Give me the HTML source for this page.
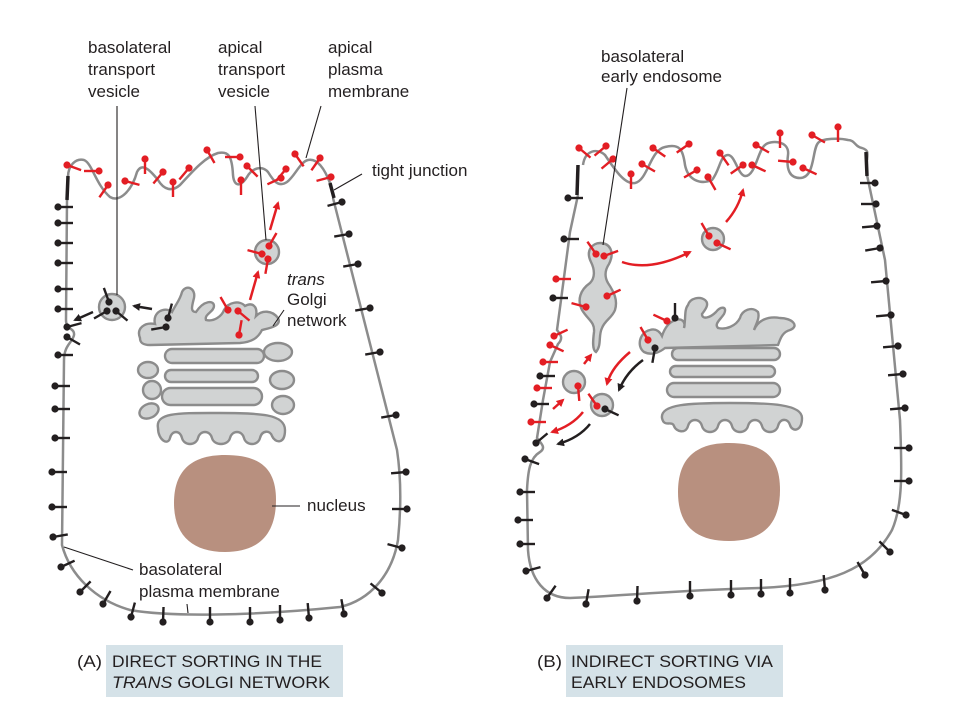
<!DOCTYPE html>
<html><head><meta charset="utf-8"><style>
html,body{margin:0;padding:0;background:#fff;}
svg{display:block}
text{font-family:"Liberation Sans",sans-serif;font-size:17px;fill:#231f20}
</style></head><body>
<svg width="958" height="722" viewBox="0 0 958 722" xmlns="http://www.w3.org/2000/svg">
<defs>
<g id="bm"><line x1="0" y1="0" x2="15" y2="0" stroke="#231f20" stroke-width="2.4"/><circle cx="0" cy="0" r="3.6" fill="#231f20"/></g>
<g id="rm"><line x1="0" y1="0" x2="15" y2="0" stroke="#e31e24" stroke-width="2.4"/><circle cx="0" cy="0" r="3.6" fill="#e31e24"/></g>
<marker id="ar" markerWidth="8" markerHeight="8" refX="6" refY="4" orient="auto" markerUnits="userSpaceOnUse"><path d="M0,0 L8,4 L0,8 Z" fill="#e31e24"/></marker>
<marker id="ab" markerWidth="8" markerHeight="8" refX="6" refY="4" orient="auto" markerUnits="userSpaceOnUse"><path d="M0,0 L8,4 L0,8 Z" fill="#231f20"/></marker>
</defs>

<!-- ============ CELL A ============ -->
<g fill="none" stroke="#8c8c8c" stroke-width="2.5">
<path d="M68,177 C68,165 76,158 84,160 C92,163 96,185 110,197 C120,203 132,190 137,172 C142,162 150,170 158,180 C164,190 172,192 180,185 C192,172 205,157 218,153 C228,151 232,155 233,175 C234,186 240,188 247,177 C252,168 262,165 268,172 C273,180 278,188 287,182 C295,176 300,162 308,160 C318,158 325,170 330,183"/>
<path d="M67,200 L66,320 C66,330 75,328 74,335 C73,342 64,345 64,360 L62,545 C70,575 95,600 130,610 C170,617 250,616 340,607 C370,600 392,575 398,540 C402,500 400,470 397,450 L333,198"/>
</g>
<line x1="68" y1="176" x2="67" y2="200" stroke="#231f20" stroke-width="3.5"/>
<line x1="330" y1="183" x2="334" y2="198" stroke="#231f20" stroke-width="3.5"/>

<use href="#bm" transform="translate(58,207)"/><use href="#bm" transform="translate(58,223)"/><use href="#bm" transform="translate(58,243)"/><use href="#bm" transform="translate(58,263)"/><use href="#bm" transform="translate(58,289)"/><use href="#bm" transform="translate(58,309)"/>
<use href="#bm" transform="translate(67,327) rotate(-15)"/><use href="#bm" transform="translate(67,337) rotate(30)"/>
<use href="#bm" transform="translate(58,355)"/><use href="#bm" transform="translate(55,386)"/><use href="#bm" transform="translate(55,409)"/><use href="#bm" transform="translate(55,438)"/><use href="#bm" transform="translate(52,472)"/><use href="#bm" transform="translate(52,507)"/><use href="#bm" transform="translate(53,537) rotate(-10)"/>
<use href="#bm" transform="translate(61,567) rotate(-25)"/><use href="#bm" transform="translate(80,592) rotate(-45)"/><use href="#bm" transform="translate(103,604) rotate(-60)"/><use href="#bm" transform="translate(131,617) rotate(-75)"/><use href="#bm" transform="translate(163,622) rotate(-88)"/><use href="#bm" transform="translate(210,622) rotate(-90)"/><use href="#bm" transform="translate(250,622) rotate(-90)"/><use href="#bm" transform="translate(280,620) rotate(-90)"/><use href="#bm" transform="translate(309,618) rotate(-95)"/><use href="#bm" transform="translate(344,614) rotate(-100)"/><use href="#bm" transform="translate(382,593) rotate(-140)"/>
<use href="#bm" transform="translate(402,548) rotate(-165)"/><use href="#bm" transform="translate(407,509) rotate(180)"/><use href="#bm" transform="translate(406,472) rotate(175)"/>
<use href="#bm" transform="translate(396,415) rotate(170)"/><use href="#bm" transform="translate(380,352) rotate(170)"/><use href="#bm" transform="translate(370,308) rotate(170)"/><use href="#bm" transform="translate(358,264) rotate(170)"/><use href="#bm" transform="translate(349,234) rotate(170)"/><use href="#bm" transform="translate(342,202) rotate(165)"/>

<use href="#rm" transform="translate(67,165) rotate(20)"/><use href="#rm" transform="translate(99,171) rotate(180)"/><use href="#rm" transform="translate(108,185) rotate(125)"/><use href="#rm" transform="translate(125,181) rotate(15)"/><use href="#rm" transform="translate(145,159) rotate(90)"/><use href="#rm" transform="translate(163,172) rotate(130)"/><use href="#rm" transform="translate(173,182) rotate(90)"/><use href="#rm" transform="translate(189,168) rotate(130)"/><use href="#rm" transform="translate(207,150) rotate(60)"/><use href="#rm" transform="translate(240,157) rotate(180)"/><use href="#rm" transform="translate(241,180) rotate(90)"/><use href="#rm" transform="translate(247,166) rotate(45)"/><use href="#rm" transform="translate(281,178) rotate(155)"/><use href="#rm" transform="translate(286,169) rotate(130)"/><use href="#rm" transform="translate(295,154) rotate(55)"/><use href="#rm" transform="translate(320,158) rotate(125)"/><use href="#rm" transform="translate(331,177) rotate(165)"/>

<g fill="#d1d3d3" stroke="#8c8c8c" stroke-width="2.4">
<path d="M140,338 C136,328 145,322 155,324 C152,312 165,306 172,312 C176,304 180,300 182,292 C186,284 196,288 194,298 C192,306 190,312 196,312 C204,300 214,300 214,306 C214,312 204,314 206,320 C214,322 222,316 224,310 C228,302 240,300 245,306 C252,302 258,306 256,316 C262,310 272,310 278,318 C282,326 270,328 262,330 C258,338 252,342 240,343 L150,345 C142,345 140,342 140,338 Z"/>
<rect x="165" y="349" width="99" height="14" rx="7"/>
<rect x="165" y="370" width="93" height="12" rx="6"/>
<rect x="162" y="388" width="100" height="17" rx="8.5"/>
<path d="M158,428 C155,412 180,413 220,413 C260,413 285,414 285,430 C285,445 275,443 272,436 C270,430 262,430 260,438 C258,446 246,446 244,438 C242,430 232,430 230,438 C228,446 214,446 212,438 C210,430 200,430 198,438 C196,446 184,446 182,438 C180,430 172,430 170,438 C168,446 158,440 158,428 Z"/>
<ellipse cx="148" cy="370" rx="10" ry="8"/><ellipse cx="152" cy="390" rx="9" ry="9"/><ellipse cx="149" cy="411" rx="10" ry="7" transform="rotate(-25 149 411)"/>
<ellipse cx="278" cy="352" rx="14" ry="9"/><ellipse cx="282" cy="380" rx="12" ry="9"/><ellipse cx="283" cy="405" rx="11" ry="9"/>
<circle cx="112" cy="307" r="13"/><circle cx="267" cy="252" r="12"/>
</g>
<use href="#bm" transform="translate(109,302) rotate(-110)"/><use href="#bm" transform="translate(107,311) rotate(150)"/><use href="#bm" transform="translate(116,311) rotate(40)"/>
<use href="#bm" transform="translate(168,318) rotate(-75)"/><use href="#bm" transform="translate(166,327) rotate(170)"/>
<use href="#rm" transform="translate(269,246) rotate(-60)"/><use href="#rm" transform="translate(262,254) rotate(195)"/><use href="#rm" transform="translate(268,259) rotate(100)"/>
<use href="#rm" transform="translate(228,310) rotate(-120)"/><use href="#rm" transform="translate(238,311) rotate(40)"/><use href="#rm" transform="translate(239,335) rotate(-80)"/>
<line x1="250" y1="300" x2="258" y2="272" stroke="#e31e24" stroke-width="2.5" marker-end="url(#ar)"/>
<line x1="270" y1="230" x2="278" y2="203" stroke="#e31e24" stroke-width="2.5" marker-end="url(#ar)"/>
<line x1="152" y1="309" x2="134" y2="306" stroke="#231f20" stroke-width="2.5" marker-end="url(#ab)"/>
<line x1="93" y1="312" x2="75" y2="320" stroke="#231f20" stroke-width="2.5" marker-end="url(#ab)"/>
<path d="M225,455 C262,455 276,470 276,500 C276,535 258,552 225,552 C192,552 174,535 174,503 C174,472 190,455 225,455 Z" fill="#b8907f"/>

<g stroke="#231f20" stroke-width="1.1" fill="none">
<line x1="117" y1="106" x2="117" y2="295"/>
<line x1="255" y1="106" x2="266" y2="240"/>
<line x1="321" y1="106" x2="306" y2="158"/>
<line x1="362" y1="174" x2="334" y2="190"/>
<line x1="284" y1="310" x2="273" y2="326"/>
<line x1="272" y1="506" x2="300" y2="506"/>
<line x1="64" y1="547" x2="133" y2="570"/>
<line x1="187" y1="604" x2="188" y2="613"/>
</g>
<text x="88" y="53">basolateral</text><text x="88" y="75">transport</text><text x="88" y="97">vesicle</text>
<text x="218" y="53">apical</text><text x="218" y="75">transport</text><text x="218" y="97">vesicle</text>
<text x="328" y="53">apical</text><text x="328" y="75">plasma</text><text x="328" y="97">membrane</text>
<text x="372" y="176">tight junction</text>
<text x="287" y="285" font-style="italic">trans</text><text x="287" y="305">Golgi</text><text x="287" y="326">network</text>
<text x="307" y="511">nucleus</text>
<text x="139" y="575">basolateral</text><text x="139" y="597">plasma membrane</text>

<!-- ============ CELL B ============ -->
<g fill="none" stroke="#8c8c8c" stroke-width="2.5">
<path d="M583,165 C585,150 597,148 605,155 C615,170 625,185 635,183 C648,180 650,150 665,147 C680,143 683,150 685,165 C688,180 700,185 712,180 C720,170 720,155 728,155 C735,155 738,175 745,176 C755,177 758,150 765,145 C770,140 790,140 788,155 C786,170 790,178 800,178 C815,178 812,150 818,143 C822,138 840,138 848,140 C855,140 855,147 862,148 C868,150 868,152 867,160"/>
<path d="M578,195 L570,232 L561,300 L557,330 C560,334 564,338 558,344 L550,362 L543,400 L537,438 C542,444 546,448 540,452 C530,458 528,470 527,490 L528,550 C530,580 545,598 570,598 C620,596 680,590 760,588 C830,585 870,570 892,530 C903,505 902,470 900,420 L885,260 L867,175"/>
</g>
<line x1="578" y1="165" x2="577" y2="195" stroke="#231f20" stroke-width="3.5"/>
<line x1="866" y1="152" x2="867" y2="176" stroke="#231f20" stroke-width="3.5"/>

<use href="#bm" transform="translate(568,198)"/><use href="#bm" transform="translate(564,239)"/><use href="#bm" transform="translate(553,298)"/><use href="#bm" transform="translate(540,376)"/><use href="#bm" transform="translate(534,404)"/><use href="#bm" transform="translate(536,443) rotate(-40)"/><use href="#bm" transform="translate(525,459) rotate(20)"/>
<use href="#bm" transform="translate(520,492)"/><use href="#bm" transform="translate(518,520)"/><use href="#bm" transform="translate(520,544)"/><use href="#bm" transform="translate(526,571) rotate(-15)"/>
<use href="#bm" transform="translate(547,598) rotate(-55)"/><use href="#bm" transform="translate(586,604) rotate(-80)"/><use href="#bm" transform="translate(637,601) rotate(-88)"/><use href="#bm" transform="translate(690,596) rotate(-90)"/><use href="#bm" transform="translate(731,595) rotate(-90)"/><use href="#bm" transform="translate(761,594) rotate(-90)"/><use href="#bm" transform="translate(790,593) rotate(-90)"/><use href="#bm" transform="translate(825,590) rotate(-95)"/><use href="#bm" transform="translate(865,575) rotate(-120)"/><use href="#bm" transform="translate(890,552) rotate(-135)"/>
<use href="#bm" transform="translate(906,515) rotate(-160)"/><use href="#bm" transform="translate(909,481) rotate(180)"/><use href="#bm" transform="translate(909,448) rotate(180)"/><use href="#bm" transform="translate(905,408) rotate(175)"/><use href="#bm" transform="translate(903,374) rotate(175)"/><use href="#bm" transform="translate(898,346) rotate(175)"/><use href="#bm" transform="translate(891,315) rotate(175)"/><use href="#bm" transform="translate(886,281) rotate(175)"/><use href="#bm" transform="translate(880,248) rotate(170)"/><use href="#bm" transform="translate(877,226) rotate(175)"/><use href="#bm" transform="translate(876,204) rotate(180)"/><use href="#bm" transform="translate(875,183) rotate(180)"/>
<use href="#rm" transform="translate(556,279)"/><use href="#rm" transform="translate(554,336) rotate(-25)"/><use href="#rm" transform="translate(550,345) rotate(25)"/><use href="#rm" transform="translate(543,362)"/><use href="#rm" transform="translate(537,388)"/><use href="#rm" transform="translate(531,422)"/>
<use href="#rm" transform="translate(579,148) rotate(40)"/><use href="#rm" transform="translate(606,146) rotate(140)"/><use href="#rm" transform="translate(613,159) rotate(140)"/><use href="#rm" transform="translate(631,174) rotate(90)"/><use href="#rm" transform="translate(642,164) rotate(30)"/><use href="#rm" transform="translate(653,148) rotate(35)"/><use href="#rm" transform="translate(689,144) rotate(145)"/><use href="#rm" transform="translate(697,170) rotate(150)"/><use href="#rm" transform="translate(708,177) rotate(60)"/><use href="#rm" transform="translate(720,153) rotate(55)"/><use href="#rm" transform="translate(743,165) rotate(145)"/><use href="#rm" transform="translate(752,165) rotate(25)"/><use href="#rm" transform="translate(756,145) rotate(30)"/><use href="#rm" transform="translate(780,133) rotate(90)"/><use href="#rm" transform="translate(793,162) rotate(185)"/><use href="#rm" transform="translate(803,168) rotate(25)"/><use href="#rm" transform="translate(812,135) rotate(30)"/><use href="#rm" transform="translate(838,127) rotate(90)"/>

<g fill="#d1d3d3" stroke="#8c8c8c" stroke-width="2.4">
<path d="M644,352 C636,346 640,332 650,330 C656,328 660,332 662,336 C664,330 668,322 676,320 C682,318 686,322 684,328 C686,318 684,310 688,305 C690,298 700,296 705,300 C710,304 705,310 702,314 C702,320 710,318 716,312 C720,306 728,306 724,314 C720,320 714,324 718,328 C726,330 736,326 740,318 C742,310 752,306 758,312 C760,318 756,324 754,330 C758,320 768,316 780,318 C792,318 800,326 790,330 C782,332 780,340 778,345 L665,348 C660,352 652,356 644,352 Z"/>
<rect x="672" y="348" width="108" height="12" rx="6"/>
<rect x="670" y="366" width="105" height="11" rx="5.5"/>
<rect x="667" y="383" width="113" height="14" rx="7"/>
<path d="M662,418 C660,404 690,403 730,403 C770,403 802,404 802,418 C802,432 792,432 790,425 C788,418 780,418 778,426 C776,434 764,434 762,426 C760,418 750,418 748,426 C746,434 734,434 732,426 C730,418 720,418 718,426 C716,434 704,434 702,426 C700,418 690,418 688,426 C686,434 676,432 674,426 C672,420 664,428 662,418 Z"/>
<path d="M591,262 C585,250 593,243 600,243 C610,243 615,252 609,264 C605,270 604,276 608,283 C614,292 618,300 615,310 C612,318 605,320 602,328 C598,336 602,345 596,352 C592,350 593,340 594,332 C595,322 588,320 582,310 C577,300 580,290 590,283 C595,278 595,270 591,262 Z"/>
<circle cx="713" cy="239" r="11"/><circle cx="574" cy="382" r="11"/><circle cx="602" cy="405" r="11"/>
</g>
<use href="#rm" transform="translate(596,254) rotate(-125)"/><use href="#rm" transform="translate(604,256) rotate(-20)"/><use href="#rm" transform="translate(607,296) rotate(-25)"/><use href="#rm" transform="translate(586,307) rotate(195)"/>
<use href="#rm" transform="translate(709,236) rotate(-120)"/><use href="#rm" transform="translate(717,243) rotate(25)"/>
<use href="#rm" transform="translate(667,321) rotate(-155)"/><use href="#bm" transform="translate(675,318) rotate(-90)"/>
<use href="#rm" transform="translate(648,340) rotate(-120)"/><use href="#bm" transform="translate(655,348) rotate(100)"/>
<use href="#rm" transform="translate(578,386) rotate(85)"/><use href="#rm" transform="translate(597,406) rotate(-125)"/><use href="#bm" transform="translate(605,409) rotate(25)"/>
<g fill="none" stroke-width="2.5">
<path d="M622,262 C645,270 670,262 690,252" stroke="#e31e24" marker-end="url(#ar)"/>
<path d="M726,222 C735,212 740,202 743,190" stroke="#e31e24" marker-end="url(#ar)"/>
<path d="M630,352 C618,362 610,372 607,384" stroke="#e31e24" marker-end="url(#ar)"/>
<path d="M643,360 C632,368 624,378 619,390" stroke="#231f20" marker-end="url(#ab)"/>
<path d="M583,412 C575,422 565,428 552,432" stroke="#e31e24" marker-end="url(#ar)"/>
<path d="M590,424 C582,434 572,440 558,444" stroke="#231f20" marker-end="url(#ab)"/>
<path d="M553,409 L563,400" stroke="#e31e24" marker-end="url(#ar)"/>
<path d="M584,364 L591,355" stroke="#e31e24" marker-end="url(#ar)"/>
</g>
<path d="M729,443 C765,443 780,458 780,490 C780,525 762,541 729,541 C695,541 678,525 678,492 C678,460 694,443 729,443 Z" fill="#b8907f"/>

<line x1="627" y1="88" x2="603" y2="245" stroke="#231f20" stroke-width="1.1"/>
<text x="601" y="62">basolateral</text><text x="601" y="82">early endosome</text>

<rect x="106" y="645" width="237" height="52" fill="#d5e2e8"/>
<rect x="566" y="645" width="217" height="52" fill="#d5e2e8"/>
<text x="77" y="667" font-size="15" textLength="25" lengthAdjust="spacingAndGlyphs">(A)</text>
<text x="112" y="667" font-size="15" textLength="210" lengthAdjust="spacingAndGlyphs">DIRECT SORTING IN THE</text>
<text x="112" y="688" font-size="15" textLength="218" lengthAdjust="spacingAndGlyphs"><tspan font-style="italic">TRANS</tspan> GOLGI NETWORK</text>
<text x="537" y="667" font-size="15" textLength="25" lengthAdjust="spacingAndGlyphs">(B)</text>
<text x="571" y="667" font-size="15" textLength="202" lengthAdjust="spacingAndGlyphs">INDIRECT SORTING VIA</text>
<text x="571" y="688" font-size="15" textLength="175" lengthAdjust="spacingAndGlyphs">EARLY ENDOSOMES</text>
</svg>
</body></html>
